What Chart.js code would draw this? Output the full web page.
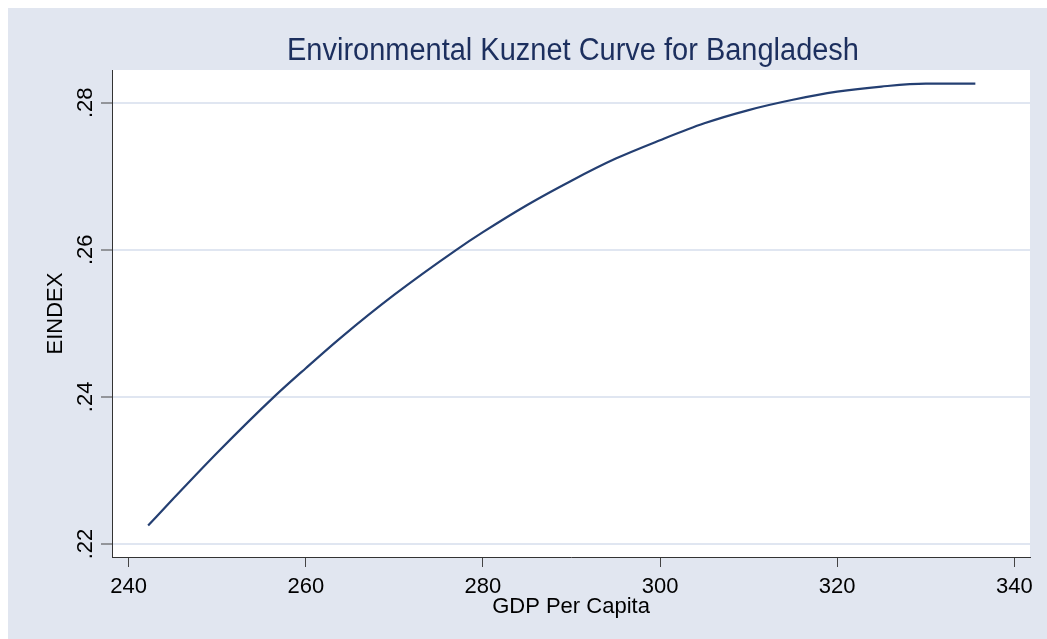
<!DOCTYPE html>
<html>
<head>
<meta charset="utf-8">
<script src="https://cdn.jsdelivr.net/npm/chart.js@4/dist/chart.umd.min.js"></script>
<style>
  html, body { margin: 0; padding: 0; background: #ffffff; overflow: hidden; }
  #wrap { position: absolute; left: 8px; top: 8px; width: 1039px; height: 631px; }
  canvas { display: block; }
</style>
</head>
<body>
<div id="wrap"><canvas id="c" width="1039" height="631"></canvas></div>
<script>
// ---- data ----
const gdpPerCapita = [242.2, 245, 250, 256.5, 260, 264, 270, 277, 280, 285, 290, 295, 300, 305, 310, 315, 320, 325, 330, 335.6];
const eindex       = [0.2225, 0.2261, 0.2324, 0.2401, 0.2439, 0.2481, 0.2539, 0.2600, 0.2624, 0.2661, 0.2694, 0.2724, 0.2749, 0.2772, 0.2790, 0.2804, 0.2815, 0.2822, 0.2826, 0.2826];
const xTicks = [240, 260, 280, 300, 320, 340];
const yTicks = [0.22, 0.24, 0.26, 0.28];
const yTickLabels = ['.22', '.24', '.26', '.28'];
const chartTitle = 'Environmental Kuznet Curve for Bangladesh';
const xTitle = 'GDP Per Capita';
const yTitle = 'EINDEX';

const FONT = '"Liberation Sans", Arial, Helvetica, sans-serif';

const points = gdpPerCapita.map((x, i) => ({ x: x, y: eindex[i] }));

const bgPlugin = {
  id: 'bg',
  beforeDraw(chart) {
    const { ctx, chartArea: a } = chart;
    ctx.save();
    ctx.fillStyle = '#E1E6F0';
    ctx.fillRect(0, 0, chart.width, chart.height);
    ctx.fillStyle = '#ffffff';
    ctx.fillRect(a.left, a.top, a.right - a.left, a.bottom - a.top);
    ctx.restore();
  },
  afterDraw(chart) {
    const { ctx, chartArea: a } = chart;
    const xs = chart.scales.x, ys = chart.scales.y;
    ctx.save();
    // title (slightly condensed, as in the reference)
    ctx.save();
    ctx.fillStyle = '#1c2f5e';
    ctx.font = '31px ' + FONT;
    ctx.textAlign = 'center';
    ctx.textBaseline = 'alphabetic';
    ctx.translate((a.left + a.right) / 2 + 2, 52);
    ctx.scale(0.935, 1);
    ctx.fillText(chartTitle, 0, 0);
    ctx.restore();
    // x tick labels
    ctx.fillStyle = '#000000';
    ctx.font = '22px ' + FONT;
    ctx.textAlign = 'center';
    ctx.textBaseline = 'alphabetic';
    xTicks.forEach(v => {
      ctx.fillText(String(v), xs.getPixelForValue(v), 585);
    });
    // x title
    ctx.fillText(xTitle, (a.left + a.right) / 2, 605);
    // y tick labels rotated
    yTicks.forEach((v, i) => {
      ctx.save();
      ctx.translate(84, ys.getPixelForValue(v));
      ctx.rotate(-Math.PI / 2);
      ctx.fillText(yTickLabels[i], 0, 0);
      ctx.restore();
    });
    // y title
    ctx.save();
    ctx.translate(54, (a.top + a.bottom) / 2);
    ctx.rotate(-Math.PI / 2);
    ctx.fillText(yTitle, 0, 0);
    ctx.restore();
    ctx.restore();
  }
};

new Chart(document.getElementById('c'), {
  type: 'scatter',
  data: {
    datasets: [{
      data: points,
      showLine: true,
      borderColor: '#243f72',
      borderWidth: 2.2,
      pointRadius: 0,
      fill: false,
      cubicInterpolationMode: 'monotone'
    }]
  },
  options: {
    responsive: false,
    animation: false,
    devicePixelRatio: 1,
    layout: { padding: { top: 62, right: 17, left: 0, bottom: 0 } },
    plugins: { legend: { display: false }, title: { display: false }, tooltip: { enabled: false } },
    scales: {
      x: {
        type: 'linear',
        min: 238.12,
        max: 341.77,
        afterBuildTicks(s) { s.ticks = xTicks.map(v => ({ value: v })); },
        afterFit(s) { s.height = 82; },
        ticks: { display: false },
        grid: { drawOnChartArea: false, drawTicks: true, tickLength: 10, tickColor: '#444444', tickWidth: 1 },
        border: { display: true, color: '#333333', width: 1 }
      },
      y: {
        type: 'linear',
        min: 0.21823,
        max: 0.28445,
        afterBuildTicks(s) { s.ticks = yTicks.map(v => ({ value: v })); },
        afterFit(s) { s.width = 104; },
        ticks: { display: false },
        grid: { drawOnChartArea: true, color: '#E0E6F1', lineWidth: 2, drawTicks: true, tickLength: 11, tickColor: '#444444', tickWidth: 1 },
        border: { display: true, color: '#333333', width: 1 }
      }
    }
  },
  plugins: [bgPlugin]
});
</script>
</body>
</html>
